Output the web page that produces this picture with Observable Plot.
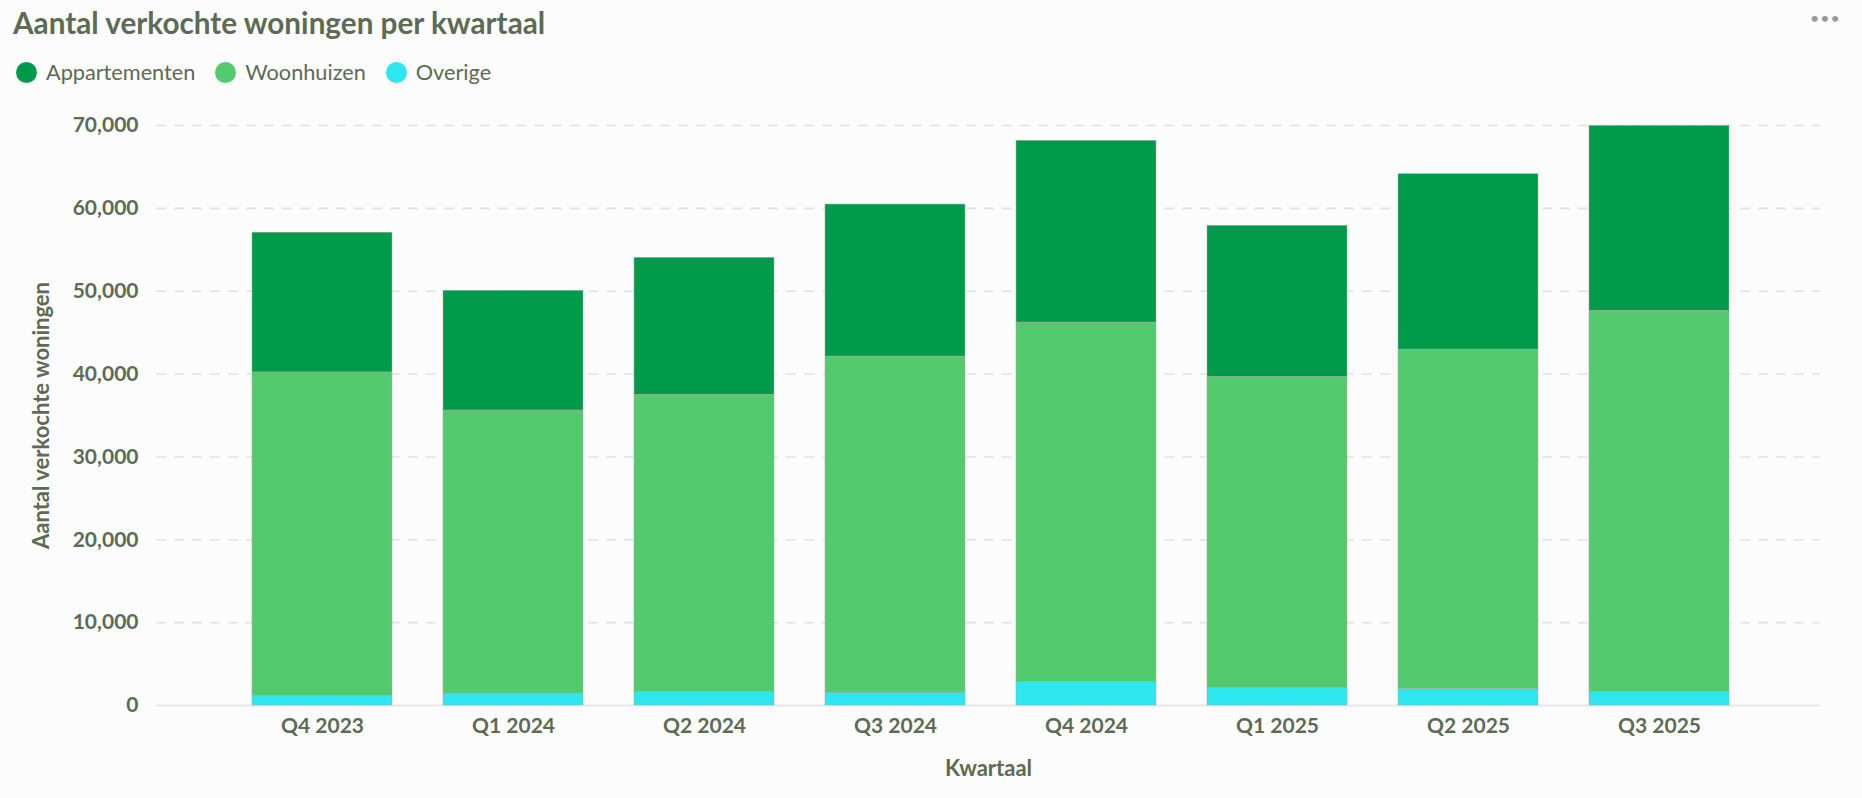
<!DOCTYPE html>
<html>
<head>
<meta charset="utf-8">
<script src="https://cdn.jsdelivr.net/npm/d3@7"></script>
<script src="https://cdn.jsdelivr.net/npm/@observablehq/plot@0.6"></script>
<style>
  html, body { margin: 0; padding: 0; background: #fcfcfc; }
  body { width: 1862px; height: 798px; overflow: hidden; font-family: Lato, sans-serif; color: #5c6b53; }
  #header { position: relative; height: 95px; }
  #title { position: absolute; left: 13px; top: 8px; font-size: 29.7px; line-height: 30px; font-weight: bold; white-space: nowrap; }
  #legend { position: absolute; left: 16px; top: 61px; display: flex; align-items: center; height: 22px; }
  .item { display: flex; align-items: center; margin-right: 20px; }
  .dot { width: 21px; height: 21px; border-radius: 50%; margin-right: 9px; }
  .lbl { font-size: 21.7px; line-height: 22px; white-space: nowrap; }
  #more { position: absolute; left: 1810px; top: 8px; font-size: 16px; color: #9a9a9a; letter-spacing: 1px; }
</style>
</head>
<body>
<div id="header">
  <div id="title">Aantal verkochte woningen per kwartaal</div>
  <div id="legend"></div>
  <div id="more">•••</div>
</div>
<div id="chart"></div>
<script>
// ---- data ----
const quarters = ["Q4 2023", "Q1 2024", "Q2 2024", "Q3 2024", "Q4 2024", "Q1 2025", "Q2 2025", "Q3 2025"];
const appartementen = [16860, 14450, 16530, 18340, 21930, 18220, 21160, 22330];
const woonhuizen = [39000, 34150, 35850, 40570, 43370, 37520, 40960, 45980];
const overige = [1200, 1450, 1650, 1550, 2850, 2150, 2000, 1650];
const seriesNames = ["Appartementen", "Woonhuizen", "Overige"];
const seriesColors = ["#009b4a", "#53ca6e", "#2de6ee"];
const yTicks = [0, 10000, 20000, 30000, 40000, 50000, 60000, 70000];
const title = "Aantal verkochte woningen per kwartaal";
const yLabel = "Aantal verkochte woningen";
const xLabel = "Kwartaal";

const textColor = "#5c6b53";

// legend
const legend = document.getElementById("legend");
seriesNames.forEach((name, i) => {
  const item = document.createElement("div");
  item.className = "item";
  const dot = document.createElement("div");
  dot.className = "dot";
  dot.style.background = seriesColors[i];
  const lbl = document.createElement("div");
  lbl.className = "lbl";
  lbl.textContent = name;
  item.appendChild(dot);
  item.appendChild(lbl);
  legend.appendChild(item);
});

// long table, stacked bottom-to-top: Overige, Woonhuizen, Appartementen
const rows = [];
quarters.forEach((q, i) => {
  rows.push({ q, s: "Overige", v: overige[i] });
  rows.push({ q, s: "Woonhuizen", v: woonhuizen[i] });
  rows.push({ q, s: "Appartementen", v: appartementen[i] });
});

const chart = Plot.plot({
  width: 1862,
  height: 703,
  marginLeft: 156,
  marginRight: 42,
  marginTop: 30,
  marginBottom: 93,
  style: { fontFamily: "Lato, sans-serif", background: "transparent", color: textColor, overflow: "visible" },
  x: { domain: quarters, range: [156, 1826], paddingInner: 0.266, paddingOuter: 0.495, label: null },
  y: { domain: [0, 70000], label: null },
  color: { domain: seriesNames, range: seriesColors },
  marks: [
    Plot.gridY(yTicks.filter(t => t > 0), { stroke: "#e2e2e2", strokeOpacity: 1, strokeWidth: 1.6, strokeDasharray: "10,8" }),
    Plot.ruleY([0], { stroke: "#e6e6e6", strokeWidth: 2 }),
    Plot.barY(rows, { x: "q", y: "v", fill: "s", stroke: "#a6a6a6", strokeWidth: 0.6, strokeOpacity: 0.8 }),
    Plot.axisY(yTicks, { tickSize: 0, tickPadding: 18, tickFormat: d3.format(","), fontSize: 21, fontWeight: "bold", fill: textColor, label: null }),
    Plot.axisX({ tickSize: 0, tickPadding: 13, fontSize: 21, fontWeight: "bold", fill: textColor, label: null }),
    Plot.text([yLabel], { frameAnchor: "left", dx: -115, rotate: -90, textAnchor: "middle", lineAnchor: "middle", fontSize: 22, fontWeight: "bold", fill: textColor }),
    Plot.text([xLabel], { frameAnchor: "bottom", dy: 63, textAnchor: "middle", lineAnchor: "middle", fontSize: 22, fontWeight: "bold", fill: textColor })
  ]
});
document.getElementById("chart").appendChild(chart);
</script>
</body>
</html>
